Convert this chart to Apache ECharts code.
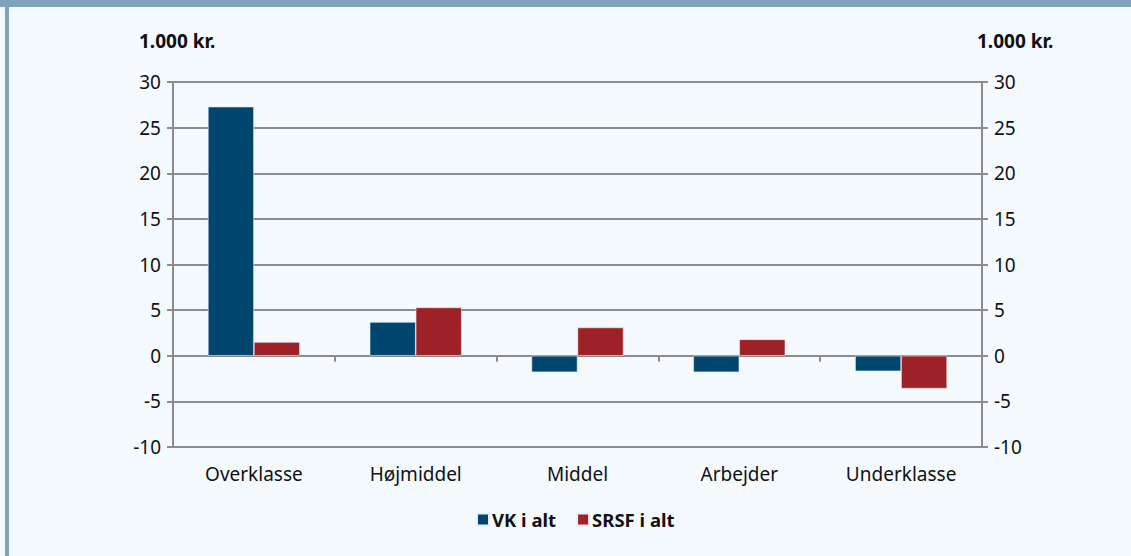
<!DOCTYPE html>
<html>
<head>
<meta charset="utf-8">
<script src="https://cdn.jsdelivr.net/npm/echarts@6/dist/echarts.min.js"></script>
<style>
html,body{margin:0;padding:0;background:#f4f9fd;}
#c{width:1131px;height:556px;}
</style>
</head>
<body>
<div id="c"></div>
<script>
const categories = ['Overklasse', 'Højmiddel', 'Middel', 'Arbejder', 'Underklasse'];
const vkValues = [27.3, 3.7, -1.8, -1.8, -1.7];
const srsfValues = [1.5, 5.3, 3.1, 1.8, -3.6];
const seriesNames = ['VK i alt', 'SRSF i alt'];
const unitLabel = '1.000 kr.';
const yMin = -10, yMax = 30, yStep = 5;

const FONT = '"Noto Sans", "Open Sans", sans-serif';
const GRID = '#8c8c8c';
const chart = echarts.init(document.getElementById('c'), null, {renderer: 'svg'});
const yAxisBase = {
  type: 'value', min: yMin, max: yMax, interval: yStep,
  axisLine: {show: true, lineStyle: {color: GRID, width: 2}},
  axisTick: {show: true, length: 6, lineStyle: {color: GRID, width: 2}},
  splitLine: {show: true, lineStyle: {color: GRID, width: 2}},
  axisLabel: {color: '#111', fontSize: 19, fontFamily: FONT, margin: 12}
};
chart.setOption({
  backgroundColor: '#f4f9fd',
  animation: false,
  grid: {left: 173, right: 149, top: 82, bottom: 109},
  legend: {
    data: seriesNames, left: 476, top: 510, padding: 0, icon: 'rect', itemWidth: 12, itemHeight: 12, itemGap: 20,
    textStyle: {color: '#111', fontSize: 18.5, fontWeight: 'bold', fontFamily: FONT, padding: [0,0,0,-2]}
  },
  xAxis: [{
    type: 'category', data: categories, position: 'bottom',
    axisLine: {show: false, onZero: false}, axisTick: {show: false},
    axisLabel: {color: '#111', fontSize: 19, fontFamily: FONT, margin: 17}
  }, {
    type: 'category', data: categories, position: 'bottom',
    axisLine: {show: true, onZero: true, lineStyle: {color: GRID, width: 2}},
    axisTick: {show: true, length: 6, lineStyle: {color: GRID, width: 2}},
    axisLabel: {show: false}
  }],
  yAxis: [
    Object.assign({}, yAxisBase, {position: 'left'}),
    Object.assign({}, yAxisBase, {position: 'right', splitLine: {show: false}})
  ],
  graphic: [
    {type: 'rect', shape: {x: 0, y: 0, width: 1131, height: 7}, style: {fill: '#7fa3b8'}, silent: true},
    {type: 'rect', shape: {x: 5, y: 0, width: 4, height: 556}, style: {fill: '#7fa3b8'}, silent: true},
    {type: 'text', left: 139, top: 31, style: {text: unitLabel, fill: '#111', font: 'bold 19px ' + FONT}},
    {type: 'text', left: 977, top: 31, style: {text: unitLabel, fill: '#111', font: 'bold 19px ' + FONT}}
  ],
  series: [{
    name: seriesNames[0], type: 'bar', data: vkValues, barWidth: 46, barGap: '0%',
    itemStyle: {color: '#00466e', borderColor: '#e8eef4', borderWidth: 0.6}
  }, {
    name: seriesNames[1], type: 'bar', data: srsfValues, barWidth: 46, barGap: '0%',
    itemStyle: {color: '#9e2128', borderColor: '#e8eef4', borderWidth: 0.6}
  }]
});
</script>
</body>
</html>
